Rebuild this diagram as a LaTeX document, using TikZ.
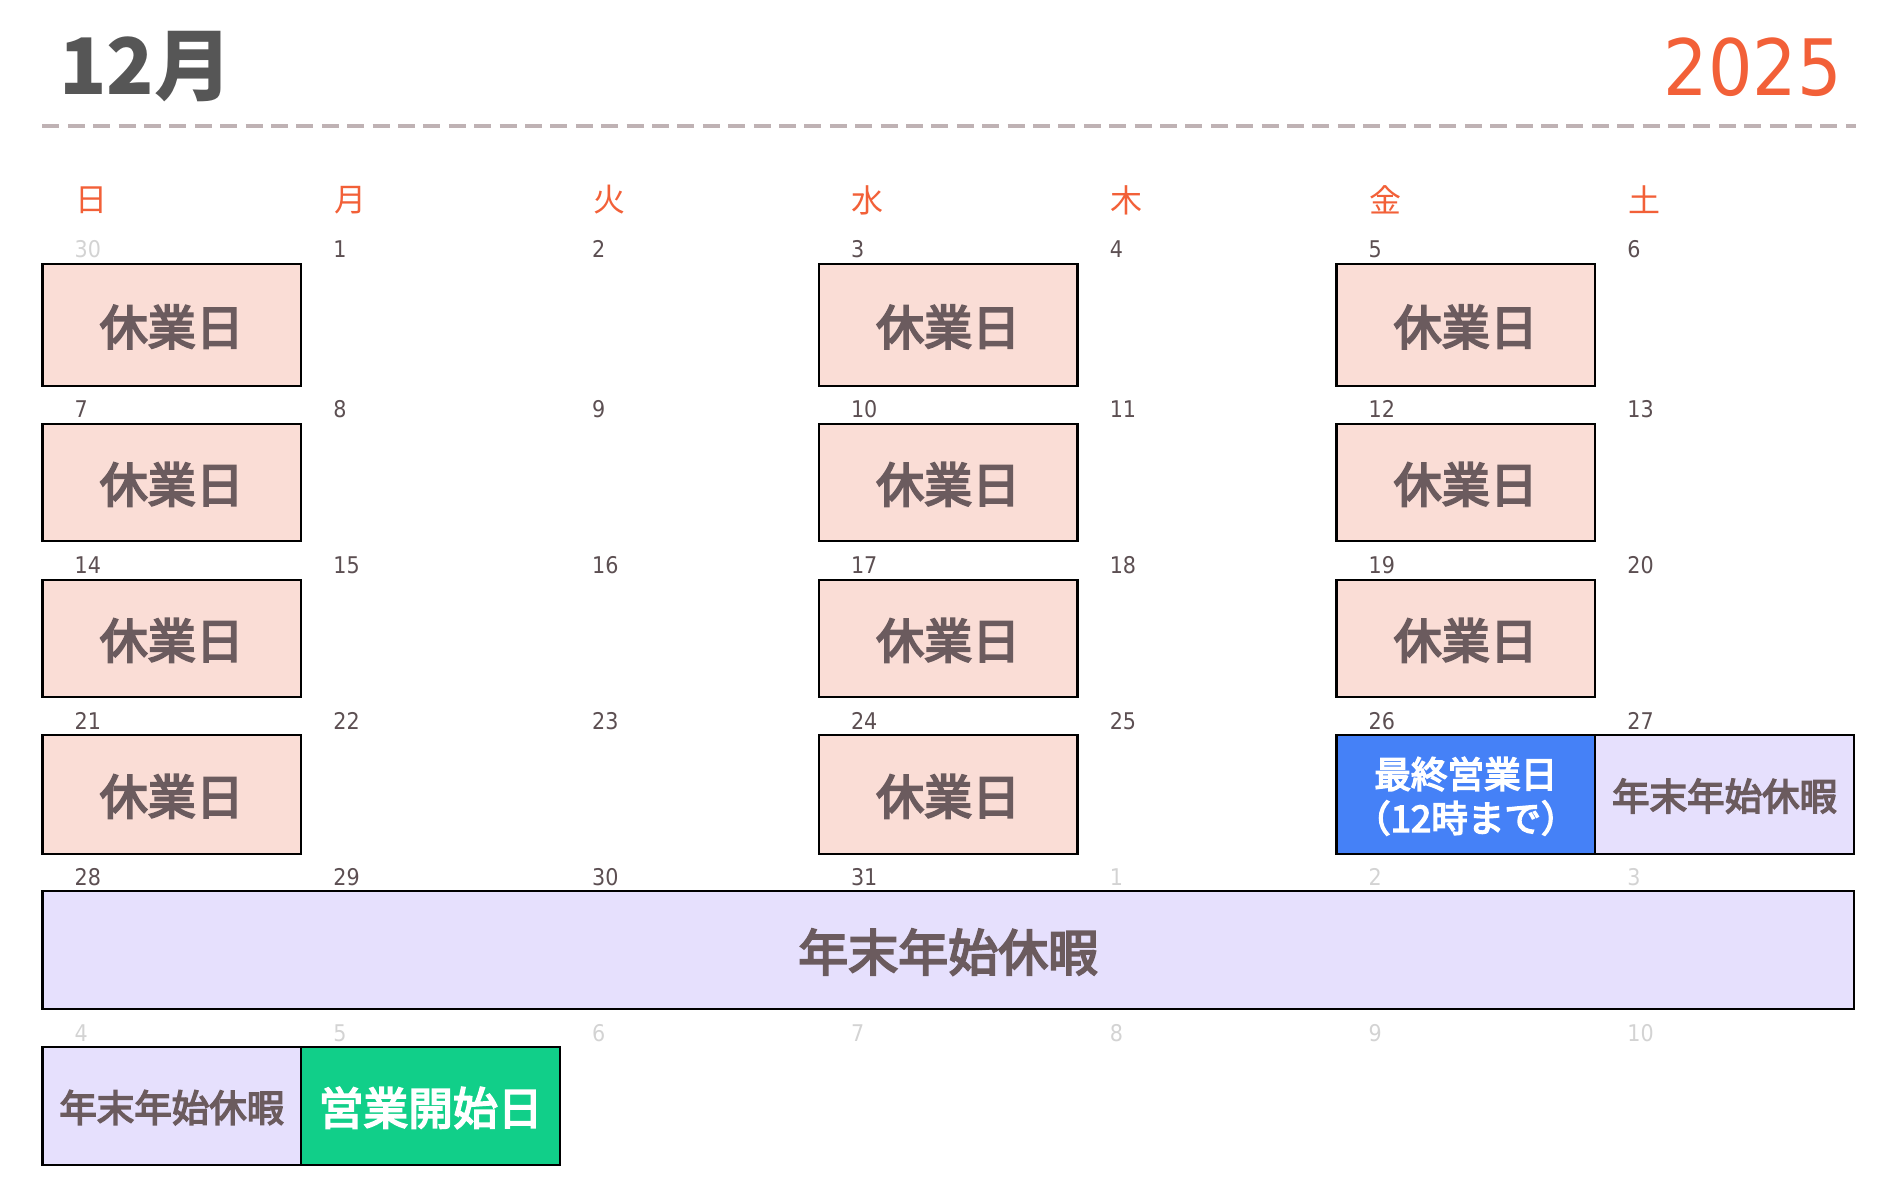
\documentclass[tikz,border=0pt]{standalone}
\usepackage{fontspec}
\newfontfamily\jp{Noto Sans CJK JP}
\newfontfamily\jpm{Noto Sans CJK JP}[FakeBold=4]
\newfontfamily\num{DejaVu Sans Condensed}
\definecolor{orng}{HTML}{F26038}
\definecolor{titlegray}{HTML}{565656}
\definecolor{dashgray}{HTML}{BFB2B4}
\definecolor{numdark}{HTML}{5C4F52}
\definecolor{numlight}{HTML}{D3D3D3}
\definecolor{txtbrown}{HTML}{6B5B5E}
\definecolor{pinkfill}{HTML}{FADDD6}
\definecolor{lavfill}{HTML}{E6E0FD}
\definecolor{bluefill}{HTML}{4581F7}
\definecolor{greenfill}{HTML}{11CF89}
\tikzset{
  daynum/.style={anchor=base west, inner sep=0, font=\num\fontsize{23}{23}\selectfont, text=numdark},
  othernum/.style={daynum, text=numlight},
  wkday/.style={inner sep=0, font=\jp\fontsize{32}{32}\selectfont, text=orng},
  cell/.style={draw=black, line width=2.5pt, inner sep=0, minimum width=258.8pt, align=center, text depth=0pt},
  holiday/.style={cell, fill=pinkfill, text=txtbrown, font=\jpm\fontsize{48}{48}\selectfont},
  vacation/.style={cell, fill=lavfill, text=txtbrown, font=\jpm\fontsize{37.5}{37.5}\selectfont},
  lastday/.style={cell, fill=bluefill, text=white, font=\jpm\fontsize{36.6}{44}\selectfont},
  firstday/.style={cell, fill=greenfill, text=white, font=\jpm\fontsize{44.8}{44.8}\selectfont},
}
\begin{document}
\begin{tikzpicture}[x=1pt, y=-1pt]
\useasboundingbox (0,0) rectangle (1899,1204);
% header
\node[anchor=base west, inner sep=0, font=\jp\bfseries\fontsize{78}{78}\selectfont, text=titlegray] (month) at (59,94.3) {12月};
\node[anchor=base east, inner sep=0, font=\num\fontsize{77.8}{77.8}\selectfont, text=orng] (year) at (1842,96) {2025};
\coordinate (dashL) at (42.4,126);
\coordinate (dashR) at (1856,126);
\draw[dashgray, line width=4pt, dash pattern=on 17pt off 8.4pt] (dashL) -- (dashR);
% weekdays
\foreach \w [count=\i from 0] in {日,月,火,水,木,金,土}
  \node[wkday] (wd\i) at (42.4+49+258.8*\i,200) {\w};
% date numbers
\foreach \n [count=\i from 0] in {30,1,2,3,4,5,6}{
  \ifnum\i=0 \node[othernum] (n1\i) at (42.4+32+258.8*\i,257) {\n};
  \else \node[daynum] (n1\i) at (42.4+32+258.8*\i,257) {\n}; \fi}
\foreach \n [count=\i from 0] in {7,8,9,10,11,12,13}
  \node[daynum] (n2\i) at (42.4+32+258.8*\i,417) {\n};
\foreach \n [count=\i from 0] in {14,15,16,17,18,19,20}
  \node[daynum] (n3\i) at (42.4+32+258.8*\i,573) {\n};
\foreach \n [count=\i from 0] in {21,22,23,24,25,26,27}
  \node[daynum] (n4\i) at (42.4+32+258.8*\i,729) {\n};
\foreach \n [count=\i from 0] in {28,29,30,31}
  \node[daynum] (n5\i) at (42.4+32+258.8*\i,885) {\n};
\foreach \n [count=\i from 4] in {1,2,3}
  \node[othernum] (n5\i) at (42.4+32+258.8*\i,885) {\n};
\foreach \n [count=\i from 0] in {4,5,6,7,8,9,10}
  \node[othernum] (n6\i) at (42.4+32+258.8*\i,1041) {\n};
% holiday boxes rows 1-4
\foreach \c in {0,3,5}{
  \node[holiday, minimum height=122pt] (h1\c) at (42.4+129.4+258.8*\c,325) {休業日};
  \node[holiday, minimum height=117pt] (h2\c) at (42.4+129.4+258.8*\c,482.5) {休業日};
  \node[holiday, minimum height=117pt] (h3\c) at (42.4+129.4+258.8*\c,638.5) {休業日};
}
\foreach \c in {0,3}
  \node[holiday, minimum height=119pt] (h4\c) at (42.4+129.4+258.8*\c,794.5) {休業日};
\node[lastday, minimum height=119pt] (last) at (42.4+129.4+258.8*5,794.5) {最終営業日\\（12時まで）};
\node[vacation, minimum height=119pt] (vac27) at (42.4+129.4+258.8*6,794.5) {年末年始休暇};
% big vacation row
\node[vacation, minimum height=118pt, minimum width=1811.6pt, font=\jpm\fontsize{50}{50}\selectfont] (vacbig) at (948.2,950) {年末年始休暇};
% last row
\node[vacation, minimum height=118pt] (vac4) at (42.4+129.4,1106) {年末年始休暇};
\node[firstday, minimum height=118pt] (first) at (42.4+129.4+258.8,1106) {営業開始日};
\end{tikzpicture}
\end{document}
